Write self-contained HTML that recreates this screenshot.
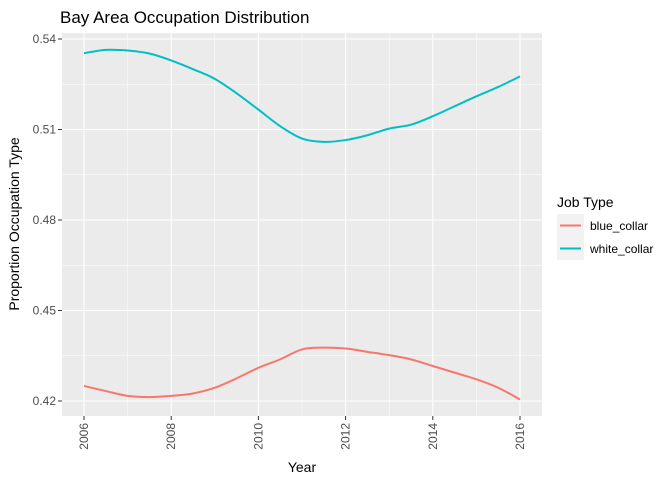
<!DOCTYPE html>
<html><head><meta charset="utf-8"><style>
body{margin:0;background:#fff;font-family:"Liberation Sans",sans-serif}
svg{display:block}
</style></head><body>
<svg width="672" height="480">
<text x="60" y="23" font-size="17" fill="#000">Bay Area Occupation Distribution</text>
<rect x="62" y="33" width="480" height="383" fill="#ebebeb"/>
<g id="grid"></g>
<g id="series"></g>
<g id="axes"></g>
<text transform="translate(19,224) rotate(-90)" text-anchor="middle" font-size="14" fill="#000">Proportion Occupation Type</text>
<text x="302" y="472" text-anchor="middle" font-size="14" fill="#000">Year</text>
<g>
<text x="557" y="207" font-size="14" fill="#000">Job Type</text>
<rect x="557" y="214" width="27" height="23" fill="#f2f2f2"/>
<line x1="560" x2="581" y1="225.5" y2="225.5" stroke="#f8766d" stroke-width="2"/>
<text x="590" y="230" font-size="12" fill="#000">blue_collar</text>
<rect x="557" y="237" width="27" height="23" fill="#f2f2f2"/>
<line x1="560" x2="581" y1="248.5" y2="248.5" stroke="#00bfc4" stroke-width="2"/>
<text x="590" y="253" font-size="12" fill="#000">white_collar</text>
</g>
</svg>
<script>
const years=[2006,2006.5,2007,2007.5,2008,2008.5,2009,2009.5,2010,2010.5,2011,2011.5,2012,2012.5,2013,2013.5,2014,2014.5,2015,2015.5,2016];
const whiteCollar=[0.5353,0.5364,0.5362,0.5352,0.5329,0.5300,0.5268,0.5220,0.5166,0.5111,0.5070,0.5059,0.5065,0.5081,0.5103,0.5116,0.5144,0.5177,0.5210,0.5241,0.5276];
const blueCollar=[0.4250,0.4233,0.4217,0.4213,0.4217,0.4225,0.4244,0.4275,0.4310,0.4338,0.4371,0.4377,0.4374,0.4363,0.4352,0.4338,0.4316,0.4294,0.4272,0.4244,0.4205];
const yTicks=[0.42,0.45,0.48,0.51,0.54];
const yTickLabels=["0.42","0.45","0.48","0.51","0.54"];
const xTicks=[2006,2008,2010,2012,2014,2016];
const NS="http://www.w3.org/2000/svg";
const xs=v=>84+(v-2006)*(520-84)/10;
const ys=v=>401-(v-0.42)*(401-39)/0.12;
function mk(tag,attrs,parent){const e=document.createElementNS(NS,tag);for(const k in attrs)e.setAttribute(k,attrs[k]);document.getElementById(parent).appendChild(e);return e;}
for(let i=0;i<yTicks.length;i++){
 const y=ys(yTicks[i]);
 const l=mk('line',{x1:62,x2:542,y1:y,y2:y,stroke:'#fff','stroke-width':1.1},'grid');
 
 
 if(i<yTicks.length-1){const ym=ys((yTicks[i]+yTicks[i+1])/2);
 const m=mk('line',{x1:62,x2:542,y1:ym,y2:ym,stroke:'#fff','stroke-width':0.5},'grid');
 
 }
 const t=mk('line',{x1:58,x2:62,y1:y,y2:y,stroke:'#333'},'axes');
 
 
 const tx=mk('text',{x:56,y:y+4,'text-anchor':'end','font-size':12,fill:'#4d4d4d'},'axes');
 tx.textContent=yTickLabels[i];
 
 
}
for(let i=0;i<xTicks.length;i++){
 const x=xs(xTicks[i]);
 const l=mk('line',{x1:x,x2:x,y1:33,y2:416,stroke:'#fff','stroke-width':1.1},'grid');
 
 
 if(i<xTicks.length-1){const xm=xs(xTicks[i]+1);
 const m=mk('line',{x1:xm,x2:xm,y1:33,y2:416,stroke:'#fff','stroke-width':0.5},'grid');
 
 }
 const t=mk('line',{x1:x,x2:x,y1:416,y2:420,stroke:'#333'},'axes');
 
 
 const tx=mk('text',{transform:`translate(${x+4},423) rotate(-90)`,'text-anchor':'end','font-size':12,fill:'#4d4d4d'},'axes');
 tx.textContent=String(xTicks[i]);
 
 
}
function path(vals){
 const p=years.map((yr,i)=>[xs(yr),ys(vals[i])]);
 let d=`M${p[0][0]},${p[0][1]}`;
 for(let i=0;i<p.length-1;i++){const p0=p[Math.max(0,i-1)],p1=p[i],p2=p[i+1],p3=p[Math.min(p.length-1,i+2)];
 d+=` C${p1[0]+(p2[0]-p0[0])/6},${p1[1]+(p2[1]-p0[1])/6} ${p2[0]-(p3[0]-p1[0])/6},${p2[1]-(p3[1]-p1[1])/6} ${p2[0]},${p2[1]}`;}
 return d;
}
const w=mk('path',{d:path(whiteCollar),fill:'none',stroke:'#00bfc4','stroke-width':2},'series');


const b=mk('path',{d:path(blueCollar),fill:'none',stroke:'#f8766d','stroke-width':2},'series');


</script>
</body></html>
